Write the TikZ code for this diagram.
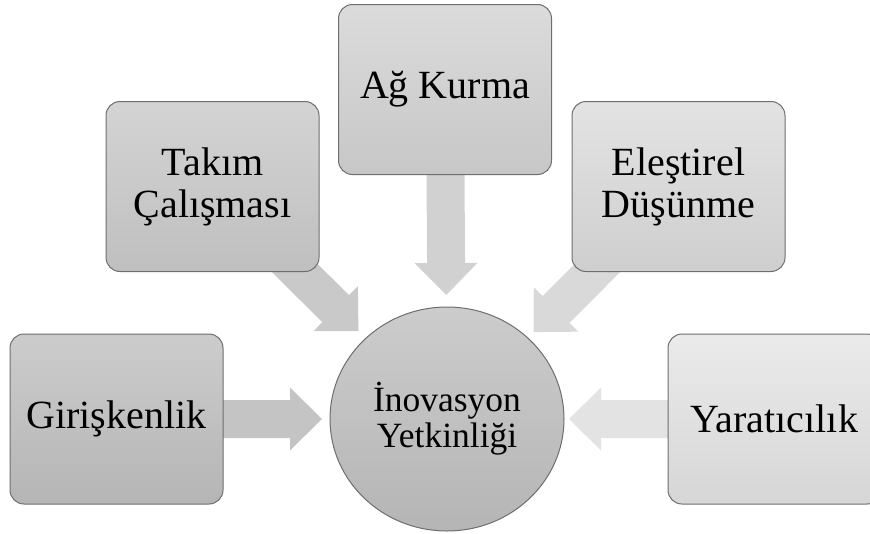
\documentclass[tikz,border=0pt]{standalone}
\usepackage{fontspec}
\setmainfont{Liberation Serif}
\usetikzlibrary{calc,shapes.geometric,backgrounds}

\definecolor{rim}{HTML}{6E6E6E}

\tikzset{
  skill/.style={draw=rim, line width=1pt, rounded corners=14pt,
    minimum width=213pt, minimum height=170pt, inner sep=0pt,
    align=center, font=\fontsize{40}{42}\selectfont},
  core/.style={ellipse, draw=rim, line width=1pt,
    minimum width=234pt, minimum height=224pt, inner sep=0pt,
    align=center, font=\fontsize{35.5}{36}\selectfont,
    top color=black!20, bottom color=black!29},
}

% fat arrow from a box centre towards the hub
\newcommand{\spoke}[2]{%
  \path (#1.center) coordinate (s)
    ($(#1.center)!173.5pt!(hub)$) coordinate (h)
    ($(#1.center)!205.5pt!(hub)$) coordinate (t);
  \fill[#2] ($(s)!19pt!90:(t)$) -- ($(h)!19pt!90:(t)$) -- ($(h)!31.5pt!90:(t)$)
    -- (t) -- ($(h)!31.5pt!-90:(t)$) -- ($(h)!19pt!-90:(t)$)
    -- ($(s)!19pt!-90:(t)$) -- cycle;}

\begin{document}
\begin{tikzpicture}[x=1pt,y=-1pt]
    \useasboundingbox (0,0) rectangle (870,533);

    \node[core] (hub) at (447,419) {İnovasyon\\Yetkinliği};

    \node[skill, top color=black!20, bottom color=black!29] (gir) at (116.5,419) {Girişkenlik};
    \node[skill, top color=black!17, bottom color=black!25] (tak) at (212.5,186.5) {Takım\\Çalışması};
    \node[skill, top color=black!14, bottom color=black!22] (ag) at (445,89.5) {Ağ Kurma};
    \node[skill, top color=black!11, bottom color=black!19] (ele) at (678.5,186.5) {Eleştirel\\Düşünme};
    \node[skill, top color=black!8, bottom color=black!16] (yar) at (774.5,419) {Yaratıcılık};

    \begin{pgfonlayer}{background}
        \spoke{gir}{black!23}
        \spoke{tak}{black!21}
        \spoke{ag}{black!18}
        \spoke{ele}{black!15}
        \spoke{yar}{black!11}
    \end{pgfonlayer}
\end{tikzpicture}
\end{document}
